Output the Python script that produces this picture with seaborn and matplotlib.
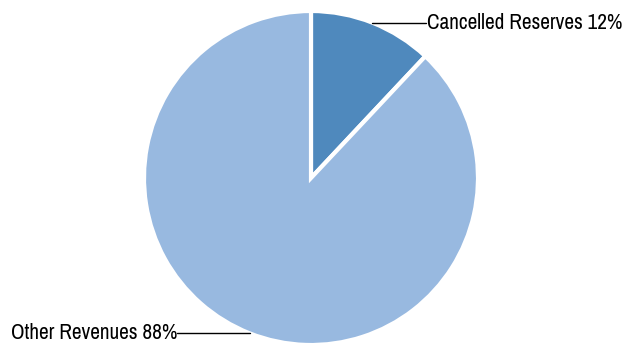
import numpy as np
import matplotlib
matplotlib.use("Agg")
import matplotlib.pyplot as plt
import seaborn as sns
from matplotlib import font_manager

categories = ["Cancelled Reserves", "Other Revenues"]
values = [12, 88]
colors = ["#4F89BD", "#98B9E0"]
label_x = [0.69, -0.80]

sns.set_theme(style="white")
names = {f.name for f in font_manager.fontManager.ttflist}
fam = next((n for n in ["Liberation Sans Narrow", "Archivo Narrow", "IBM Plex Sans Condensed",
                        "Liberation Sans"] if n in names), "DejaVu Sans")
plt.rcParams["font.family"] = [fam, "DejaVu Sans"]

fig = plt.figure(figsize=(6.24, 3.46), dpi=100)
cx, cy, r = 311, 178, 167
W, H = 624, 346
ax = fig.add_axes([(cx - r) / W, (H - cy - r) / H, 2 * r / W, 2 * r / H])

wedges, _ = ax.pie(values, colors=colors, startangle=90, counterclock=False,
                   radius=1.0, wedgeprops=dict(edgecolor="white", linewidth=3))
ax.set_xlim(-1, 1)
ax.set_ylim(-1, 1)
ax.set_aspect("equal")
ax.axis("off")

for w, cat, v, lx in zip(wedges, categories, values, label_x):
    ang = np.deg2rad((w.theta1 + w.theta2) / 2)
    x0, y0 = np.cos(ang), np.sin(ang)
    ax.plot([x0, lx], [y0, y0], color="black", lw=1, clip_on=False)
    ha = "left" if lx > 0 else "right"
    ax.text(lx + (0.003 if lx > 0 else -0.003), y0, f"{cat} {v}%", ha=ha, va="center",
            fontsize=15.3, color="black", clip_on=False)

fig.savefig("out.png", dpi=100)
